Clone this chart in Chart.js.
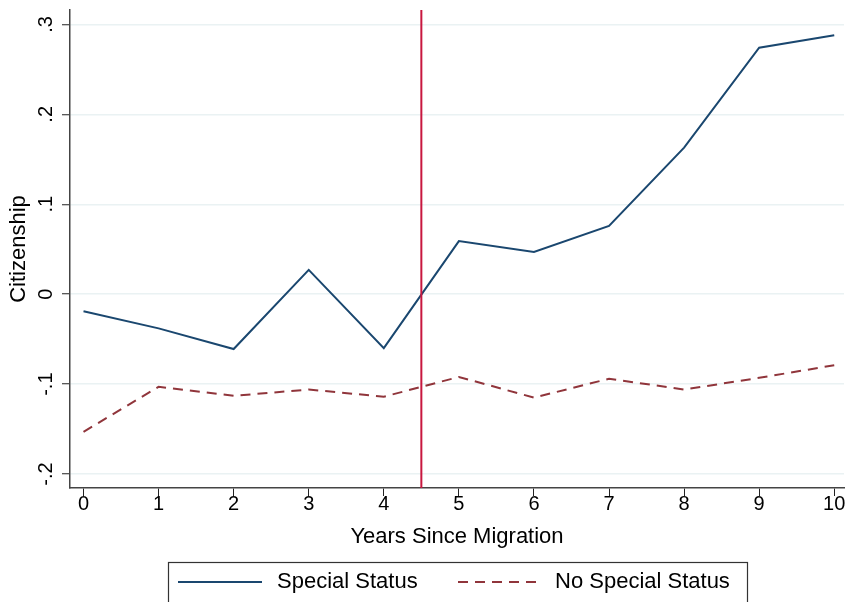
<!DOCTYPE html>
<html>
<head>
<meta charset="utf-8">
<script src="https://cdn.jsdelivr.net/npm/chart.js@4/dist/chart.umd.min.js"></script>
<style>
  html, body { margin: 0; padding: 0; background: #ffffff; }
  #c { display: block; }
</style>
</head>
<body>
<canvas id="c" width="846" height="602"></canvas>
<script>
// Years since migration and the two estimated citizenship series
const years = [0, 1, 2, 3, 4, 5, 6, 7, 8, 9, 10];
const specialStatus = [-0.019, -0.038, -0.061, 0.027, -0.060, 0.059, 0.047, 0.076, 0.163, 0.274, 0.288];
const noSpecialStatus = [-0.153, -0.103, -0.113, -0.106, -0.114, -0.092, -0.115, -0.094, -0.106, -0.093, -0.079];
const seriesNames = ['Special Status', 'No Special Status'];

// Axis ticks
const xTickValues = [0, 1, 2, 3, 4, 5, 6, 7, 8, 9, 10];
const yTickValues = [-0.2, -0.1, 0, 0.1, 0.2, 0.3];
const yTickLabels = ['-.2', '-.1', '0', '.1', '.2', '.3'];

// Reference line between year 4 and year 5
const cutoffYear = 4.5;

const FONT = '"Liberation Sans", Arial, Helvetica, sans-serif';
const NAVY = '#1a476f';
const MAROON = '#90353b';
const CUTOFF = '#c8173f';

// Vertical reference line spanning the plot region
const cutoffLine = {
  id: 'cutoffLine',
  afterDatasetsDraw(chart) {
    const { ctx, chartArea, scales } = chart;
    const x = scales.x.getPixelForValue(cutoffYear);
    ctx.save();
    ctx.strokeStyle = CUTOFF;
    ctx.lineWidth = 2;
    ctx.beginPath();
    ctx.moveTo(x, chartArea.top);
    ctx.lineTo(x, chartArea.bottom);
    ctx.stroke();
    ctx.restore();
  }
};

// Boxed legend below the axis title
const boxedLegend = {
  id: 'boxedLegend',
  afterDraw(chart) {
    const { ctx } = chart;
    const ds = chart.data.datasets;
    const box = { x: 168.5, y: 562.5, w: 579, h: 60 };
    const cy = 582;
    const entries = [
      { x0: 178, x1: 262, tx: 277 },
      { x0: 458, x1: 541, tx: 555 }
    ];
    ctx.save();
    ctx.strokeStyle = '#333333';
    ctx.lineWidth = 1.2;
    ctx.strokeRect(box.x, box.y, box.w, box.h);
    entries.forEach((e, i) => {
      const d = ds[i];
      ctx.strokeStyle = d.borderColor;
      ctx.lineWidth = d.borderWidth;
      ctx.setLineDash(d.borderDash || []);
      ctx.beginPath();
      ctx.moveTo(e.x0, cy);
      ctx.lineTo(e.x1, cy);
      ctx.stroke();
      ctx.setLineDash([]);
      ctx.fillStyle = '#000000';
      ctx.font = '22px ' + FONT;
      ctx.textAlign = 'left';
      ctx.textBaseline = 'middle';
      ctx.fillText(d.label, e.tx, cy);
    });
    ctx.restore();
  }
};

new Chart(document.getElementById('c'), {
  type: 'line',
  data: {
    datasets: [
      {
        label: seriesNames[0],
        data: years.map((x, i) => ({ x, y: specialStatus[i] })),
        borderColor: NAVY,
        borderWidth: 2,
        pointRadius: 0,
        tension: 0,
        fill: false
      },
      {
        label: seriesNames[1],
        data: years.map((x, i) => ({ x, y: noSpecialStatus[i] })),
        borderColor: MAROON,
        borderWidth: 2,
        borderDash: [10, 7],
        pointRadius: 0,
        tension: 0,
        fill: false
      }
    ]
  },
  options: {
    responsive: false,
    animation: false,
    devicePixelRatio: 1,
    layout: { padding: { top: 10, right: 2, left: 0, bottom: 0 } },
    plugins: { legend: { display: false }, tooltip: { enabled: false } },
    scales: {
      x: {
        type: 'linear',
        min: -0.18,
        max: 10.13,
        afterBuildTicks: s => { s.ticks = xTickValues.map(v => ({ value: v })); },
        afterFit: s => { s.height = 114; s.paddingLeft = 0; s.paddingRight = 0; },
        grid: { drawOnChartArea: false, tickLength: 8, color: '#222222', lineWidth: 1 },
        border: { color: '#444444', width: 1.5 },
        ticks: {
          color: '#000000',
          font: { family: FONT, size: 20 },
          padding: -4,
          maxRotation: 0,
          autoSkip: false,
          callback: v => String(v)
        },
        title: {
          display: true,
          text: 'Years Since Migration',
          color: '#000000',
          font: { family: FONT, size: 22 },
          padding: { top: 0, bottom: 52 }
        }
      },
      y: {
        type: 'linear',
        min: -0.2155,
        max: 0.316,
        afterBuildTicks: s => { s.ticks = yTickValues.map(v => ({ value: v })); },
        afterFit: s => { s.width = 70; s.paddingTop = 0; s.paddingBottom = 0; },
        grid: { color: '#eaf2f3', lineWidth: 1.5, tickColor: '#222222', tickLength: 8, tickWidth: 1 },
        border: { color: '#444444', width: 1.5 },
        ticks: {
          color: '#000000',
          font: { family: FONT, size: 20 },
          minRotation: 90,
          maxRotation: 90,
          crossAlign: 'center',
          padding: 4,
          autoSkip: false,
          callback: (v, i) => yTickLabels[i]
        },
        title: {
          display: true,
          text: 'Citizenship',
          color: '#000000',
          font: { family: FONT, size: 22 },
          padding: { top: 6, bottom: 0 }
        }
      }
    }
  },
  plugins: [cutoffLine, boxedLegend]
});
</script>
</body>
</html>
